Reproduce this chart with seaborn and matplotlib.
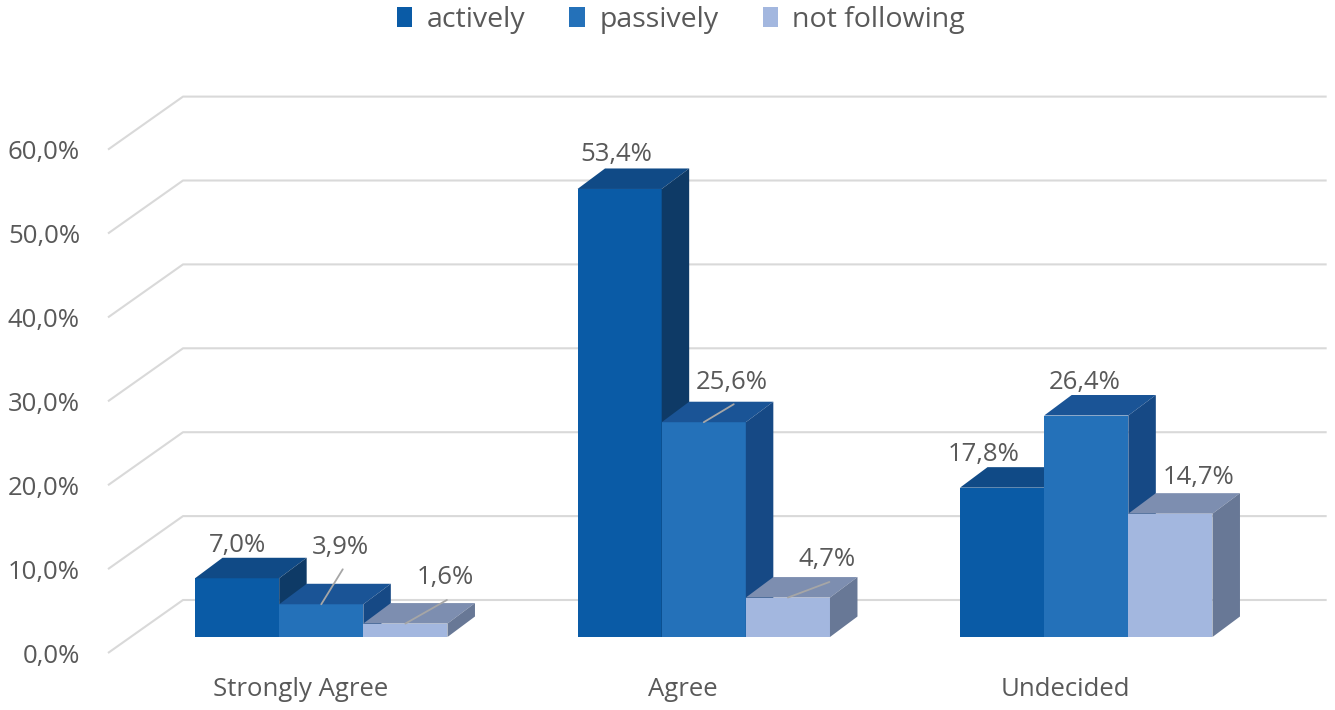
import numpy as np
import pandas as pd
import matplotlib
matplotlib.use("Agg")
import matplotlib.pyplot as plt
import seaborn as sns
from matplotlib.patches import Polygon, Rectangle
from matplotlib.transforms import ScaledTranslation

# ---------------- data ----------------
categories = ["Strongly Agree", "Agree", "Undecided"]
series = ["actively", "passively", "not following"]
actively = [7.0, 53.4, 17.8]
passively = [3.9, 25.6, 26.4]
not_following = [1.6, 4.7, 14.7]
y_ticks = [0, 10, 20, 30, 40, 50, 60]
y_tick_labels = ["0,0%", "10,0%", "20,0%", "30,0%", "40,0%", "50,0%", "60,0%"]

# ---------------- styles / layout ----------------
front_colors = ["#0A5BA6", "#2471B9", "#A3B7DF"]
top_colors = ["#104A86", "#1A5496", "#7D8EB0"]
side_colors = ["#0E3A66", "#164985", "#687896"]
text_color = "#595959"
grid_color = "#D9D9D9"
# label offsets in pixels (x right, y down) from the front-top centre of each bar
label_offsets = {
    "actively": [(0, -33), (-3.5, -34), (-18.5, -32.7)],
    "passively": [(19.5, -57), (28, -40), (-2, -33.5)],
    "not following": [(39.5, -45.6), (39.5, -37.6), (28.5, -35.7)],
}
leader = {
    "actively": [False, False, False],
    "passively": [True, True, False],
    "not following": [True, True, False],
}

values = {"actively": actively, "passively": passively, "not following": not_following}
df = pd.DataFrame(
    [(c, s, values[s][i]) for s in series for i, c in enumerate(categories)],
    columns=["category", "series", "value"],
)

sns.set_theme(style="white")
plt.rcParams["font.family"] = ["Open Sans", "DejaVu Sans"]

W, H, DPI = 1335, 710, 100
fig = plt.figure(figsize=(W / DPI, H / DPI), dpi=DPI)
ax = fig.add_axes([130 / W, 73 / H, 1147.5 / W, 503.4 / H])
ax.set_facecolor("none")

sns.barplot(
    data=df, x="category", y="value", hue="series", order=categories,
    hue_order=series, palette=front_colors, width=0.66, dodge=True,
    saturation=1, linewidth=0, legend=False, ax=ax, errorbar=None,
)
ax.set_xlim(-0.5, 2.5)
ax.set_ylim(0, 60)
for sp in ax.spines.values():
    sp.set_visible(False)
ax.set_xlabel("")
ax.set_ylabel("")

# pixel -> data scale
p0 = ax.transData.transform((0, 0))
p1 = ax.transData.transform((1, 1))
sx = p1[0] - p0[0]
sy = p1[1] - p0[1]
bar_dx, bar_dy = 27.5 / sx, 20.5 / sy
front_dx, front_dy = -22 / sx, -16 / sy
back_dx, back_dy = 53 / sx, 37 / sy

# walls / gridlines
for v in y_ticks:
    xs = [-0.5 + front_dx, -0.5 + back_dx, 2.49 + back_dx]
    ys = [v + front_dy, v + back_dy, v + back_dy]
    ax.plot(xs, ys, color=grid_color, lw=1.5, zorder=0.5, clip_on=False,
            solid_capstyle="butt")

# 3D faces
bars = list(ax.patches)
for k, p in enumerate(bars):
    j = k // len(categories)
    i = k % len(categories)
    s = series[j]
    p.set_zorder(3 + j)
    x0 = p.get_x()
    w = p.get_width()
    h = p.get_height()
    x1 = x0 + w
    top = Polygon([(x0, h), (x1, h), (x1 + bar_dx, h + bar_dy), (x0 + bar_dx, h + bar_dy)],
                  closed=True, facecolor=top_colors[j], edgecolor="none", zorder=3 + j,
                  clip_on=False)
    side = Polygon([(x1, 0), (x1 + bar_dx, bar_dy), (x1 + bar_dx, h + bar_dy), (x1, h)],
                   closed=True, facecolor=side_colors[j], edgecolor="none", zorder=3 + j,
                   clip_on=False)
    ax.add_patch(top)
    ax.add_patch(side)

    cx = x0 + w / 2
    ox, oy = label_offsets[s][i]
    txt = f"{h:.1f}%".replace(".", ",")
    ax.annotate(txt, xy=(cx, h), xytext=(ox * 0.72, -oy * 0.72), textcoords="offset points",
                ha="center", va="center", fontsize=18.5, color=text_color, zorder=20,
                annotation_clip=False)
    if leader[s][i]:
        ax.annotate("", xy=(cx, h), xytext=((ox + 2) * 0.72, -(oy + 22) * 0.72),
                    textcoords="offset points",
                    arrowprops=dict(arrowstyle="-", color="#A6A6A6", lw=1.3,
                                    shrinkA=0, shrinkB=0),
                    zorder=20, annotation_clip=False)

# ticks
ax.set_yticks(y_ticks, y_tick_labels)
ax.tick_params(axis="y", length=0, pad=36, labelsize=18.5, labelcolor=text_color)
ax.tick_params(axis="x", length=0, pad=29, labelsize=18.5, labelcolor=text_color)
ax.set_xticks(range(len(categories)), categories)
for lab in ax.get_yticklabels():
    lab.set_transform(lab.get_transform() + ScaledTranslation(0, -16 / DPI, fig.dpi_scale_trans))
for lab in ax.get_xticklabels():
    lab.set_transform(lab.get_transform() + ScaledTranslation(-21 / DPI, 0, fig.dpi_scale_trans))

# legend
handles = [Rectangle((0, 0), 1, 1, facecolor=c, edgecolor="none") for c in front_colors]
leg = fig.legend(handles, series, loc="center", bbox_to_anchor=(681 / W, 1 - 20 / H),
                 ncol=3, frameon=False, fontsize=20.5, handlelength=0.55,
                 handleheight=0.65, handletextpad=0.5, columnspacing=1.55)
for t in leg.get_texts():
    t.set_color(text_color)

fig.savefig("out.png", dpi=DPI, facecolor="white")
